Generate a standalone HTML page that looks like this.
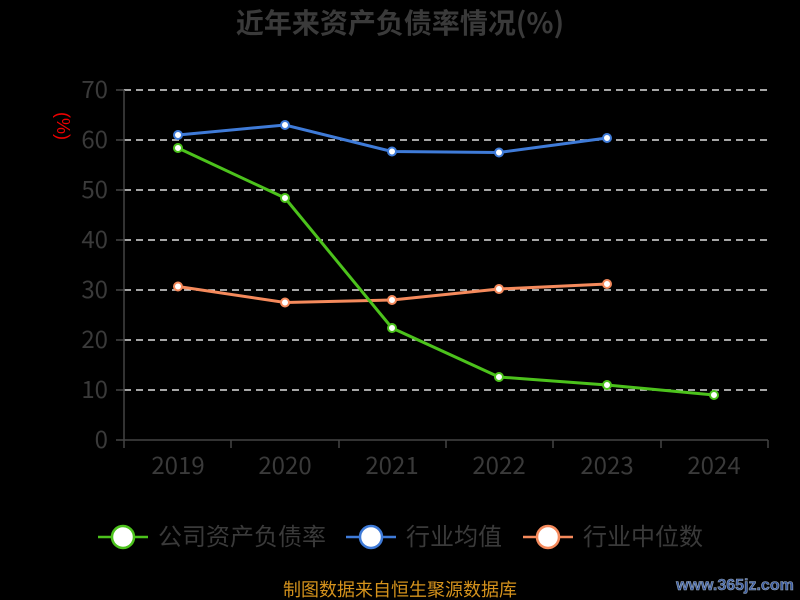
<!DOCTYPE html>
<html><head><meta charset="utf-8"><style>
html,body{margin:0;padding:0;background:#000;width:800px;height:600px;overflow:hidden}
</style></head><body>
<svg width="800" height="600" xmlns="http://www.w3.org/2000/svg" font-family="Liberation Sans, Noto Sans CJK SC, sans-serif">
<rect width="800" height="600" fill="#000"/>
<text x="400" y="33" text-anchor="middle" font-size="28" font-weight="bold" fill="#3a3a3a" font-family="Noto Sans CJK SC, sans-serif">近年来资产负债率情况(%)</text>
<g stroke="#ddd" stroke-width="1.5" stroke-dasharray="7,5">
<line x1="124" y1="90" x2="768" y2="90"/><line x1="124" y1="140" x2="768" y2="140"/>
<line x1="124" y1="190" x2="768" y2="190"/><line x1="124" y1="240" x2="768" y2="240"/>
<line x1="124" y1="290" x2="768" y2="290"/><line x1="124" y1="340" x2="768" y2="340"/>
<line x1="124" y1="390" x2="768" y2="390"/>
</g>
<g stroke="#444" stroke-width="1.5">
<line x1="124" y1="90" x2="124" y2="440"/><line x1="124" y1="440" x2="768" y2="440"/>
<line x1="116" y1="90" x2="124" y2="90"/><line x1="116" y1="140" x2="124" y2="140"/><line x1="116" y1="190" x2="124" y2="190"/><line x1="116" y1="240" x2="124" y2="240"/><line x1="116" y1="290" x2="124" y2="290"/><line x1="116" y1="340" x2="124" y2="340"/><line x1="116" y1="390" x2="124" y2="390"/><line x1="116" y1="440" x2="124" y2="440"/>
<line x1="124" y1="440" x2="124" y2="448"/><line x1="231" y1="440" x2="231" y2="448"/><line x1="339" y1="440" x2="339" y2="448"/><line x1="446" y1="440" x2="446" y2="448"/><line x1="553" y1="440" x2="553" y2="448"/><line x1="661" y1="440" x2="661" y2="448"/><line x1="768" y1="440" x2="768" y2="448"/>
</g>
<g fill="#3a3a3a" font-size="24" text-anchor="end" font-family="Noto Sans CJK SC, sans-serif">
<text x="108" y="98">70</text><text x="108" y="148">60</text><text x="108" y="198">50</text><text x="108" y="248">40</text><text x="108" y="298">30</text><text x="108" y="348">20</text><text x="108" y="398">10</text><text x="108" y="448">0</text>
</g>
<g fill="#3a3a3a" font-size="24" text-anchor="middle" font-family="Noto Sans CJK SC, sans-serif">
<text x="178" y="474">2019</text><text x="285" y="474">2020</text><text x="392" y="474">2021</text><text x="499" y="474">2022</text><text x="607" y="474">2023</text><text x="714" y="474">2024</text>
</g>
<text transform="translate(57,126) rotate(90)" text-anchor="middle" font-size="18" fill="#e00">(%)</text>
<g fill="none" stroke-width="3">
<polyline stroke="#3f7bd8" points="178,135 285,125 392,151.5 499,152.5 607,138"/>
<polyline stroke="#f58a5c" points="178,286.5 285,302.5 392,300 499,289 607,284"/>
<polyline stroke="#4cc21c" points="178,148 285,198 392,328 499,377 607,385 714,395"/>
</g>
<g fill="#fff" stroke-width="2">
<g stroke="#3f7bd8"><circle cx="178" cy="135" r="4"/><circle cx="285" cy="125" r="4"/><circle cx="392" cy="151.5" r="4"/><circle cx="499" cy="152.5" r="4"/><circle cx="607" cy="138" r="4"/></g>
<g stroke="#f58a5c"><circle cx="178" cy="286.5" r="4"/><circle cx="285" cy="302.5" r="4"/><circle cx="392" cy="300" r="4"/><circle cx="499" cy="289" r="4"/><circle cx="607" cy="284" r="4"/></g>
<g stroke="#4cc21c"><circle cx="178" cy="148" r="4"/><circle cx="285" cy="198" r="4"/><circle cx="392" cy="328" r="4"/><circle cx="499" cy="377" r="4"/><circle cx="607" cy="385" r="4"/><circle cx="714" cy="395" r="4"/></g>
</g>
<g stroke-width="2.5">
<line x1="98" y1="537" x2="148" y2="537" stroke="#4cc21c"/><circle cx="123" cy="537" r="11" fill="#fff" stroke="#4cc21c"/>
<line x1="346" y1="537" x2="396" y2="537" stroke="#3f7bd8"/><circle cx="371" cy="537" r="11" fill="#fff" stroke="#3f7bd8"/>
<line x1="523" y1="537" x2="573" y2="537" stroke="#f58a5c"/><circle cx="548" cy="537" r="11" fill="#fff" stroke="#f58a5c"/>
</g>
<g fill="#3a3a3a" font-size="24" font-family="Noto Sans CJK SC, sans-serif">
<text x="158" y="545">公司资产负债率</text><text x="406" y="545">行业均值</text><text x="583" y="545">行业中位数</text>
</g>
<text x="400" y="596" text-anchor="middle" font-size="18" fill="#d4921c" font-family="Noto Sans CJK SC, sans-serif">制图数据来自恒生聚源数据库</text>
<text x="735" y="590" text-anchor="middle" font-size="16" font-weight="bold" fill="#3a5aa0" stroke="#9ab" stroke-width="0.6">www.365jz.com</text>
</svg>
</body></html>
